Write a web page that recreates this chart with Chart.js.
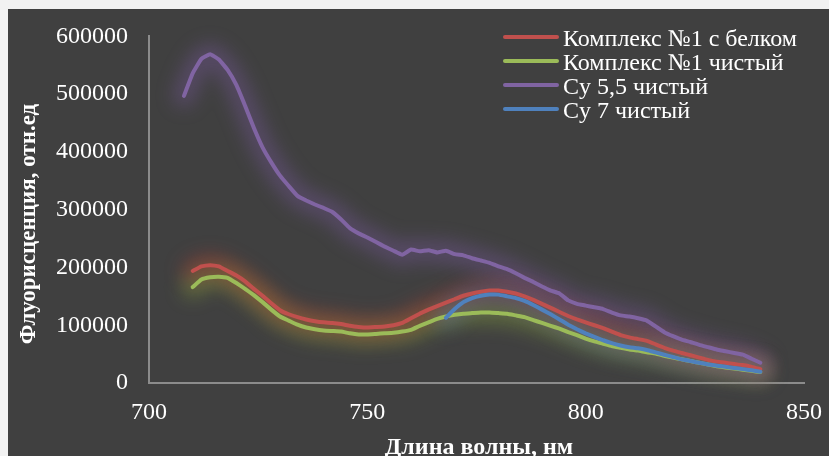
<!DOCTYPE html>
<html>
<head>
<meta charset="utf-8">
<script src="https://cdn.jsdelivr.net/npm/chart.js@4.4.1/dist/chart.umd.min.js"></script>
<style>
  html, body { margin: 0; padding: 0; background: #f2f2f2; width: 829px; height: 456px; overflow: hidden; }
  #box { position: absolute; left: 8px; top: 9px; width: 821px; height: 447px; background: #404040; }
  canvas { display: block; }
</style>
</head>
<body>
<div id="box"><canvas id="c" width="821" height="447"></canvas></div>
<script>
// Wavelength, nm
const wavelengths = [708,710,712,714,716,718,720,722,724,726,728,730,732,734,736,738,740,742,744,746,748,750,752,754,756,758,760,762,764,766,768,770,772,774,776,778,780,782,784,786,788,790,792,794,796,798,800,802,804,806,808,810,812,814,816,818,820,822,824,826,828,830,832,834,836,838,840];

// Комплекс №1 с белком
const complexProtein = [null,194000,202000,204000,202000,194000,186000,176000,163000,151000,138000,126000,119000,114000,110000,107000,105000,104000,102000,99000,97000,96000,97000,98000,100000,104000,112000,120000,127000,133000,139000,145000,151000,155000,158000,160000,160000,158000,155000,150000,144000,137000,130000,123000,116000,110000,105000,100000,95000,89000,83000,79000,76000,73000,67000,61000,56000,52000,48000,44000,40000,37000,35000,33000,31000,28000,24000];

// Комплекс №1 чистый
const complexPure = [null,166000,179000,183000,184000,182000,173000,163000,152000,140000,127000,115000,108000,101000,96000,93000,91000,90000,89000,86000,84000,84000,85000,86000,87000,89000,92000,99000,105000,111000,115000,118000,120000,121000,122000,122000,121000,120000,117000,114000,109000,104000,99000,94000,88000,83000,77000,72000,68000,64000,61000,58000,56000,53000,51000,47000,44000,41000,38000,35000,32000,29000,27000,25000,23000,21000,19000];

// Cy 5,5 чистый
const cy55 = [497000,536000,561000,569000,560000,542000,516000,480000,442000,408000,382000,359000,341000,324000,316000,309000,303000,296000,283000,268000,259000,252000,244000,236000,229000,222000,231000,228000,230000,226000,229000,223000,221000,216000,212000,208000,202000,197000,190000,182000,175000,167000,160000,155000,143000,137000,134000,131000,128000,122000,117000,115000,112000,108000,98000,88000,81000,75000,71000,66000,62000,58000,55000,52000,49000,42000,35000];

// Cy 7 чистый
const cy7 = [null,null,null,null,null,null,null,null,null,null,null,null,null,null,null,null,null,null,null,null,null,null,null,null,null,null,null,null,null,null,113000,128000,140000,147000,151000,153000,153000,150000,147000,142000,135000,127000,119000,110000,101000,93000,86000,80000,74000,69000,65000,62000,60000,57000,53000,49000,45000,41000,38000,35000,32000,30000,28000,26000,24000,22000,19500];

const seriesNames = ['Комплекс №1 с белком', 'Комплекс №1 чистый', 'Cy 5,5 чистый', 'Cy 7 чистый'];
const yTicks = [0,100000,200000,300000,400000,500000,600000];
const xTicks = [700,750,800,850];
const xTitle = 'Длина волны, нм';
const yTitle = 'Флуорисценция, отн.ед';

const colors = ['#C0504D', '#9BBB59', '#8064A2', '#4F81BD'];
const glows = ['rgba(200,60,50,0.34)', 'rgba(165,205,60,0.30)', 'rgba(140,95,190,0.30)', 'rgba(80,130,200,0.28)'];
const FONT = "'Liberation Serif', 'Times New Roman', serif";

function pts(arr) {
  const out = [];
  arr.forEach((v, i) => { if (v !== null) out.push({x: wavelengths[i], y: v}); });
  return out;
}
const allSeries = [complexProtein, complexPure, cy55, cy7];
const datasets = allSeries.map((s, i) => ({
  label: seriesNames[i],
  data: pts(s),
  borderColor: colors[i],
  backgroundColor: colors[i],
  borderWidth: 4,
  pointRadius: 0,
  tension: 0.1,
  fill: false,
  borderCapStyle: 'round',
  borderJoinStyle: 'round',
  order: [2, 3, 4, 1][i]
}));

const glowPlugin = {
  id: 'glow',
  beforeDatasetsDraw(chart) {
    const ctx = chart.ctx;
    const metas = chart.getSortedVisibleDatasetMetas().slice().reverse();
    metas.forEach(meta => {
      const p = meta.data;
      if (!p || !p.length) return;
      ctx.save();
      ctx.filter = 'blur(9px)';
      ctx.strokeStyle = glows[meta.index];
      ctx.lineWidth = 22;
      ctx.lineCap = 'round';
      ctx.lineJoin = 'round';
      ctx.beginPath();
      p.forEach((pt, j) => { if (j === 0) ctx.moveTo(pt.x, pt.y); else ctx.lineTo(pt.x, pt.y); });
      ctx.stroke();
      ctx.restore();
    });
  }
};

const textPlugin = {
  id: 'texts',
  afterDraw(chart) {
    const ctx = chart.ctx;
    ctx.save();
    // legend
    ctx.font = '24px ' + FONT;
    ctx.textAlign = 'left';
    ctx.textBaseline = 'alphabetic';
    seriesNames.forEach((name, i) => {
      const y = 28 + i * 24;
      ctx.strokeStyle = colors[i];
      ctx.lineWidth = 4;
      ctx.lineCap = 'round';
      ctx.beginPath();
      ctx.moveTo(497, y);
      ctx.lineTo(549, y);
      ctx.stroke();
      ctx.fillStyle = '#ffffff';
      ctx.fillText(name, 555, y + 9);
    });
    // axis titles
    ctx.fillStyle = '#ffffff';
    ctx.textAlign = 'center';
    ctx.textBaseline = 'alphabetic';
    ctx.font = 'bold 24px ' + FONT;
    ctx.fillText(xTitle, 471, 445);
    ctx.font = 'bold 23px ' + FONT;
    ctx.translate(27, 215);
    ctx.rotate(-Math.PI / 2);
    ctx.fillText(yTitle, 0, 0);
    ctx.restore();
  }
};

new Chart(document.getElementById('c'), {
  type: 'line',
  data: { datasets },
  options: {
    responsive: false,
    animation: false,
    layout: { padding: { top: 24, right: 25, left: 0, bottom: 0 } },
    plugins: { legend: { display: false }, tooltip: { enabled: false } },
    scales: {
      x: {
        type: 'linear', min: 700, max: 850,
        afterBuildTicks(scale) { scale.ticks = xTicks.map(v => ({ value: v })); },
        ticks: { color: '#ffffff', font: { family: FONT, size: 24 }, padding: 7, maxRotation: 0 },
        grid: { display: false },
        border: { display: true, color: '#8c8c8c', width: 2 },
        afterFit(scale) { scale.height = 73; }
      },
      y: {
        type: 'linear', min: 0, max: 600000,
        afterBuildTicks(scale) { scale.ticks = yTicks.map(v => ({ value: v })); },
        ticks: { color: '#ffffff', font: { family: FONT, size: 24 }, padding: 13, callback: v => String(v) },
        grid: { display: false },
        border: { display: true, color: '#8c8c8c', width: 2 },
        afterFit(scale) { scale.width = 141; }
      }
    }
  },
  plugins: [glowPlugin, textPlugin]
});
</script>
</body>
</html>
